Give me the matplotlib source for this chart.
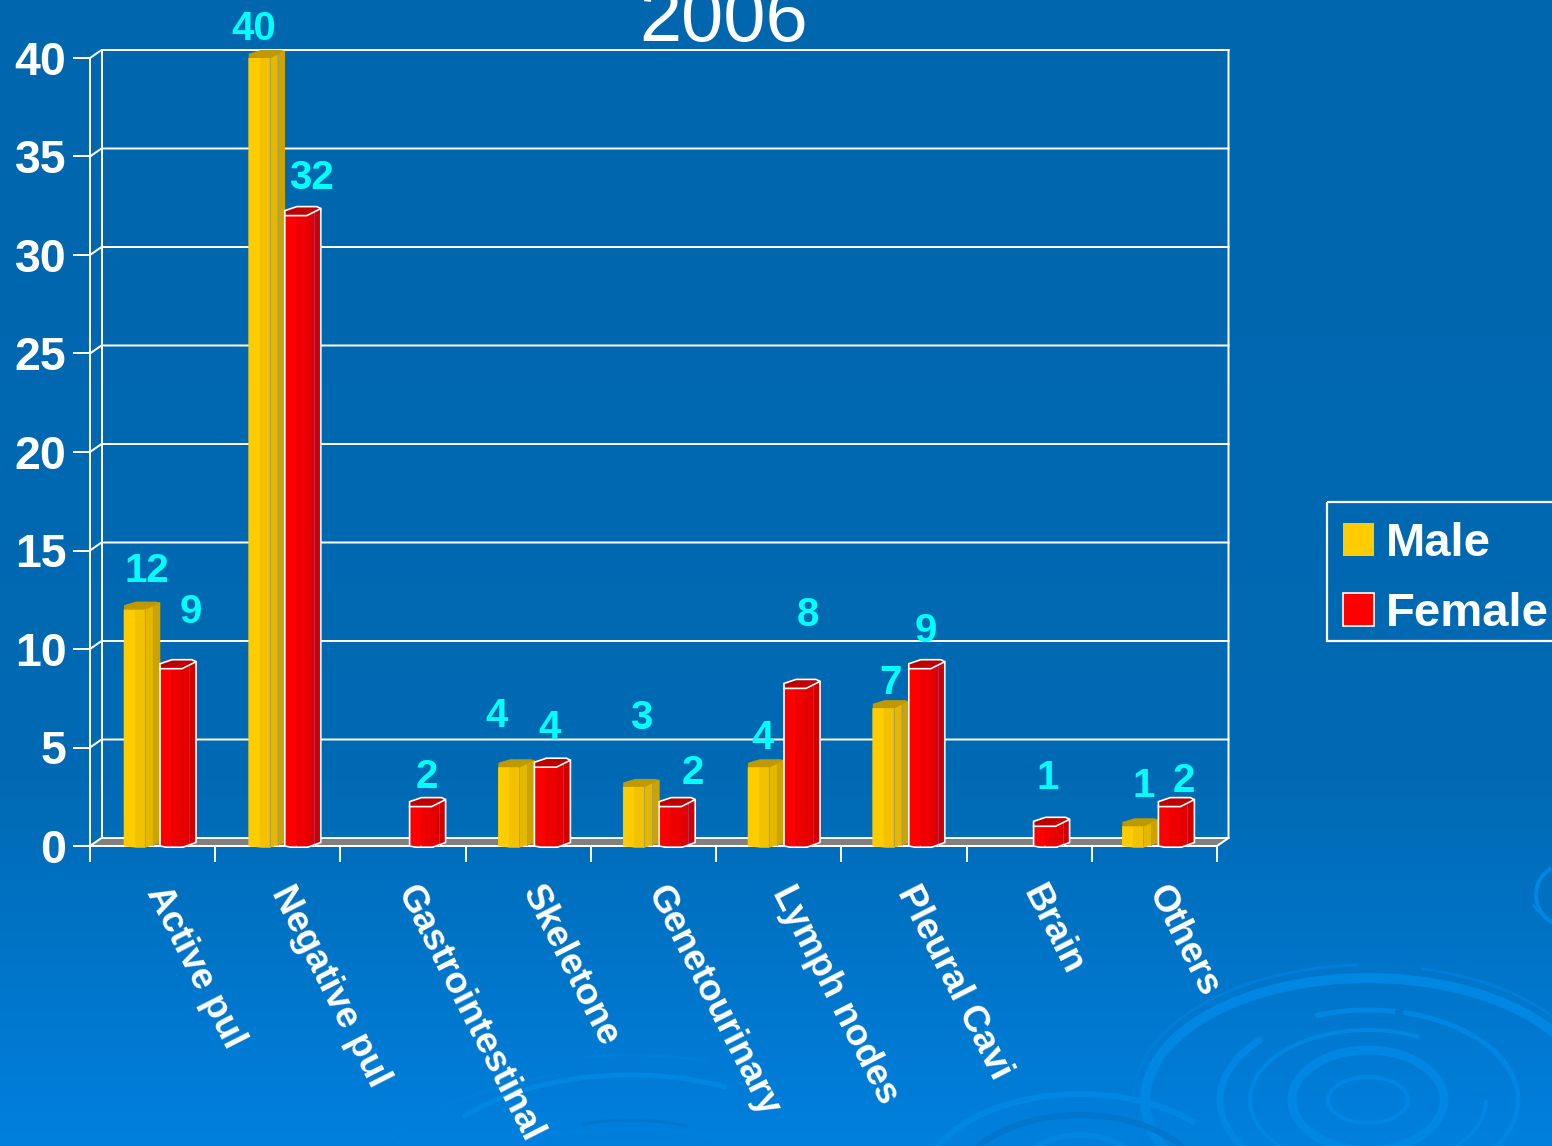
import numpy as np
from matplotlib import pyplot as plt
from matplotlib.patches import Arc, Patch, Rectangle

plt.rcParams['font.family'] = ['Liberation Sans', 'DejaVu Sans']

W, H = 1552, 1146

categories = ['Active pul', 'Negative pul', 'Gastrointestinal', 'Skeletone', 'Genetourinary',
              'Lymph nodes', 'Pleural Cavi', 'Brain', 'Others']
male = [12, 40, 0, 4, 3, 4, 7, 0, 1]
female = [9, 32, 2, 4, 2, 8, 9, 1, 2]
y_ticks = [0, 5, 10, 15, 20, 25, 30, 35, 40]
title = '2006'

# label offsets from top of the bar, in pixels (labels are scattered in the original)
male_off = [(5.5, 43), (-12.5, 33), None, (-19.5, 55), (0.5, 73), (-2.5, 33), (0.5, 29), None, (3.5, 44)]
female_off = [(13, 61), (9, 42), (0, 34), (-2, 43), (16, 38), (6, 77), (0, 42), (-3, 52), (8, 30)]

yellow = ['#FFCC00', '#F2C200', '#E5B800', '#CCA300', '#BF9900']
red = ['#FF0000', '#EE0000', '#E40000', '#CF0000', '#C00000']

fig = plt.figure(figsize=(W / 100, H / 100), dpi=100)

# Background
bg = fig.add_axes([0, 0, 1, 1], zorder=0)
bg.set_xlim(0, W)
bg.set_ylim(H, 0)
bg.axis('off')
yy = np.arange(H)
grad = np.zeros((H, 1, 3))
grad[:, 0, 1] = np.interp(yy, [0, 780, 1146], [102, 106, 128]) / 255
grad[:, 0, 2] = np.interp(yy, [0, 780, 1146], [173, 180, 222]) / 255
bg.imshow(grad, extent=[0, W, H, 0], aspect='auto', zorder=0)

ring = '#0086E3'
ring_dim = '#007EDA'
ring_dark = '#0076CC'
rings = [
    # cx, cy, w, h, lw, t1, t2, colour
    (1368, 1100, 446, 244, 10, 0, 360, ring),
    (1368, 1100, 470, 270, 3, 292, 500, ring_dim),
    (1368, 1100, 470, 270, 3, 160, 266, ring_dim),
    (1368, 1100, 300, 180, 5, 238, 287, ring),
    (1368, 1100, 300, 180, 5, 292, 400, ring),
    (1368, 1100, 296, 176, 7, 100, 210, ring),
    (1368, 1100, 236, 140, 4, 140, 309, ring),
    (1368, 1100, 236, 140, 4, 0, 100, ring),
    (1368, 1100, 152, 100, 9, 0, 360, ring),
    (1368, 1100, 80, 46, 4, 0, 360, ring),
    (630, 1195, 512, 280, 3, 252, 300, ring_dim),
    (630, 1195, 440, 240, 5, 205, 312, ring),
    (630, 1195, 520, 250, 4, 185, 240, ring_dim),
    (630, 1195, 280, 150, 3, 235, 310, ring_dark),
    (630, 1240, 400, 210, 8, 230, 310, ring_dim),
    (1080, 1190, 320, 192, 6, 190, 330, ring),
    (1080, 1190, 250, 150, 6, 200, 340, ring_dark),
    (1080, 1190, 140, 110, 6, 210, 330, ring),
    (1567, 895, 62, 62, 4, 100, 240, ring),
    (1575, 880, 100, 92, 2, 100, 150, ring),
]
for cx, cy, w, h, lw, t1, t2, col in rings:
    bg.add_patch(Arc((cx, cy), w, h, theta1=t1, theta2=t2, color=col, lw=lw * 0.72, zorder=1))

# Main axes = front plane of the 3D box
x0, x1, y0, y40 = 90, 1217, 846, 58
ax = fig.add_axes([x0 / W, 1 - y0 / H, (x1 - x0) / W, (y0 - y40) / H], zorder=1)
ax.patch.set_alpha(0)
n = len(categories)
ax.set_xlim(0, n)
ax.set_ylim(0, 40)
px = n / (x1 - x0)
py = 40 / (y0 - y40)
dx, dy = 11.5 * px, 8 * py

for s in ['top', 'right']:
    ax.spines[s].set_visible(False)
for s in ['left', 'bottom']:
    ax.spines[s].set_color('white')
    ax.spines[s].set_linewidth(1.44)
ax.set_yticks(y_ticks)
ax.set_xticks(range(n + 1))
ax.set_xticklabels([])
ax.tick_params(axis='y', length=12.2, width=1.44, color='white', labelcolor='white', labelsize=33.5, pad=4.8)
ax.tick_params(axis='x', length=11.5, width=1.44, color='white')
for t in ax.get_yticklabels():
    t.set_fontweight('bold')

# floor and walls
ax.fill([0, dx, n + dx, n], [0, dy, dy, 0], color='#808080', zorder=1, clip_on=False)
for v in y_ticks:
    ax.plot([0, dx, n + dx], [v, v + dy, v + dy], color='white', lw=1.44, zorder=1.5, clip_on=False)
ax.plot([dx, dx], [dy, 40 + dy], color='white', lw=1.44, zorder=1.5, clip_on=False)
ax.plot([n, n + dx, n + dx], [0, dy, 40 + dy], color='white', lw=1.44, zorder=1.5, clip_on=False)

# cylinder-like bar, shape given in pixels relative to the left edge of bar
top_x = [0, 22, 36]
top_y = [0, 0, 7]
bot_x = [0, 6, 23, 36]
bot_y = [0, -1.2, -1.2, 3.5]
facets = [0, 11, 21, 29, 36]


def draw_bar(left, value, cols, outline, seam, cap_h, z):
    # solid body first so the grid does not show between the facets
    ax.fill(left + np.array([0, 36, 36, 0]) * px, [0, 3.5 * py, value + 7 * py, value],
            color=cols[1], lw=0, zorder=z - 0.001, clip_on=False)
    for k in range(4):
        xs = np.array([facets[k], facets[k + 1]])
        up = np.interp(xs, top_x, top_y) * py + value
        lo = np.interp(xs, bot_x, bot_y) * py
        ax.fill([left + xs[0] * px, left + xs[1] * px, left + xs[1] * px, left + xs[0] * px],
                [lo[0], lo[1], up[1], up[0]], facecolor=cols[k], edgecolor=cols[k], lw=0.4,
                zorder=z, clip_on=False)
        if k == 3 or (k == 2 and not outline):
            ax.plot([left + xs[0] * px] * 2, [lo[0], up[0]], color=seam, lw=0.7, zorder=z, clip_on=False)
    cap_x = np.array([0, 0, 12, 32, 36, 22]) * px + left
    cap_y = np.array([0, cap_h * 0.55, cap_h, cap_h, 7, 0]) * py + value
    if outline:
        ax.fill(cap_x, cap_y, facecolor=cols[4], edgecolor='white', lw=1.2, zorder=z + 0.1, clip_on=False)
        body_x = np.array([0, 0, 6, 23, 36, 36]) * px + left
        body_y = np.array([value / py, 0, -1.2, -1.2, 3.5, value / py + 7]) * py
        ax.plot(body_x, body_y, color='white', lw=1.2, zorder=z + 0.1, clip_on=False)
    else:
        ax.fill(cap_x, cap_y, color=cols[4], lw=0, zorder=z + 0.1, clip_on=False)


m_left = 34 * px
f_left = 70 * px
step = 124.8 * px
lab = dict(color='#00FFFF', fontsize=29, fontweight='bold', ha='center', va='center_baseline',
           textcoords='offset pixels', annotation_clip=False, zorder=6)
for i in range(n):
    if male[i] > 0:
        draw_bar(i * step + m_left, male[i], yellow, False, '#B0A050', 8, 3 + i * 0.01)
        ax.annotate(str(male[i]), (i * step + m_left + 17.5 * px, male[i]), xytext=male_off[i], **lab)
    draw_bar(i * step + f_left, female[i], red, True, '#B03060', 9, 4 + i * 0.01)
    ax.annotate(str(female[i]), (i * step + f_left + 17.5 * px, female[i]), xytext=female_off[i], **lab)

# category labels
for i, c in enumerate(categories):
    ax.annotate(c, (i + 0.5, 0), xytext=(2, -42), textcoords='offset pixels', color='white',
                fontsize=26.7, fontweight='bold', rotation=-63, rotation_mode='anchor',
                ha='left', va='center', annotation_clip=False)

fig.text(724 / W, 1 - 41 / H, title, color='white', fontsize=54.5, ha='center', va='baseline')

# legend: frame runs off the right edge, so it is drawn on its own
bg.add_patch(Rectangle((1327, 502), 300, 138.5, facecolor='none', edgecolor='white', lw=1.6, zorder=2))
handles = [Patch(facecolor=yellow[0], edgecolor='none', label='Male'),
           Patch(facecolor=red[0], edgecolor='white', lw=1.2, label='Female')]
leg = fig.legend(handles=handles, loc='upper left', bbox_to_anchor=(1327 / W, 1 - 506.5 / H),
                 prop={'weight': 'bold', 'size': 34}, labelcolor='white', frameon=False,
                 handlelength=0.67, handleheight=0.67, handletextpad=0.25, borderpad=0.33,
                 borderaxespad=0, labelspacing=0.55)
leg.set_zorder(5)

fig.savefig('out.png', dpi=100)
